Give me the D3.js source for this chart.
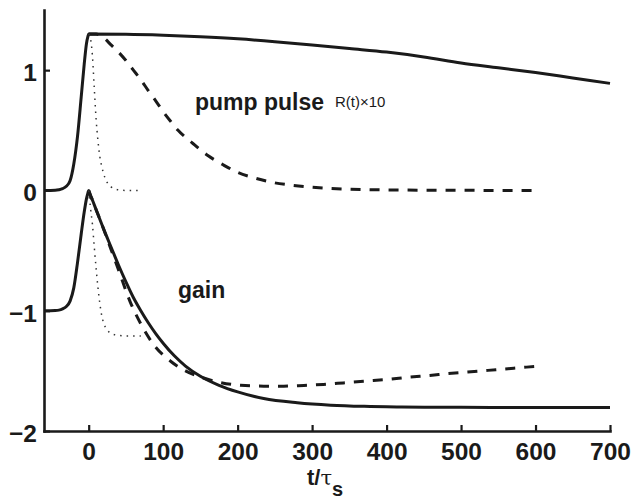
<!DOCTYPE html>
<html><head><meta charset="utf-8">
<script src="https://cdn.jsdelivr.net/npm/d3@7"></script>
<style>body{margin:0;background:#fff}svg{display:block}</style>
</head><body><svg id="c" width="633" height="499"></svg>
<script>
// ---- data ----
const xTicks = [0,100,200,300,400,500,600,700];
const yTicks = [-2,-1,0,1];
const yTickLabels = ["\u22122","\u22121","0","1"];

const pumpSolidT = [-60,-45,-40,-35,-30,-25,-20,-15,-10,-6,-3,-1,0,50,100,150,200,250,300,350,400,450,500,550,600,650,700];
const pumpSolidV = [0,0.002,0.006,0.015,0.035,0.08,0.22,0.45,0.78,1.05,1.22,1.28,1.30,1.298,1.29,1.277,1.26,1.237,1.21,1.18,1.15,1.11,1.06,1.02,0.98,0.935,0.89];

const pumpDashT = [0,10,20,30,40,50,60,70,80,90,100,110,120,140,160,180,200,225,250,275,300,350,400,450,500,550,600];
const pumpDashV = [1.30,1.30,1.27,1.21,1.15,1.08,1.0,0.92,0.83,0.745,0.655,0.575,0.50,0.39,0.29,0.215,0.15,0.10,0.063,0.042,0.027,0.01,0.004,0.002,0.001,0,0];

const pumpDotT = [0,2.5,5,7.5,10,12.5,15,17.5,20,25,30,40,50,70];
const pumpDotV = [1.3,1.26,1.12,0.85,0.59,0.41,0.28,0.20,0.14,0.065,0.03,0.005,0,0];

const gainSolidT = [-60,-45,-40,-35,-30,-25,-20,-15,-10,-6,-3,-1,0,2,5,10,20,30,40,50,60,70,80,90,100,115,130,150,175,200,235,280,325,370,420,500,600,700];
const gainSolidV = [-1,-0.998,-0.995,-0.985,-0.965,-0.92,-0.81,-0.6,-0.36,-0.18,-0.07,-0.02,0,-0.035,-0.08,-0.16,-0.32,-0.47,-0.62,-0.76,-0.89,-1.0,-1.10,-1.19,-1.27,-1.375,-1.46,-1.545,-1.62,-1.675,-1.73,-1.765,-1.785,-1.795,-1.80,-1.803,-1.805,-1.805];

const gainDashT = [0,2,5,10,20,30,40,56,70,87,110,130,152,177,204,235,262,289,315,342,369,400,431,458,483,509,536,563,588,608];
const gainDashV = [0,-0.035,-0.08,-0.16,-0.32,-0.49,-0.66,-0.93,-1.11,-1.28,-1.42,-1.50,-1.555,-1.597,-1.62,-1.627,-1.627,-1.621,-1.613,-1.60,-1.586,-1.572,-1.552,-1.538,-1.523,-1.51,-1.496,-1.482,-1.469,-1.46];

const gainDotT = [0,2.5,5,7.5,10,12.5,15,17.5,20,25,30,40,50,70];
const gainDotV = [0,-0.15,-0.28,-0.47,-0.65,-0.81,-0.94,-1.04,-1.10,-1.16,-1.19,-1.205,-1.21,-1.21];

// ---- chart ----
const svg = d3.select("#c");
const ink = "#1a1a1a";
const font = "'Liberation Sans', Arial, Helvetica, sans-serif";
const x = d3.scaleLinear().domain([-60,700]).range([44,610]);
const y = d3.scaleLinear().domain([-2,1.5]).range([431,10]);

const line = d3.line().x(d=>x(d[0])).y(d=>y(d[1])).curve(d3.curveMonotoneX);
const zip = (a,b)=>a.map((t,i)=>[t,b[i]]);

const series = [
  {t:pumpSolidT, v:pumpSolidV, w:3, dash:null, c:ink},
  {t:pumpDashT, v:pumpDashV, w:3, dash:"10,9", c:ink},
  {t:pumpDotT, v:pumpDotV, w:1.5, dash:"1.5,5", c:"#333"},
  {t:gainSolidT, v:gainSolidV, w:3, dash:null, c:ink},
  {t:gainDashT, v:gainDashV, w:3, dash:"10,9", c:ink},
  {t:gainDotT, v:gainDotV, w:1.5, dash:"1.5,5", c:"#333"}
];
svg.append("g").selectAll("path").data(series).join("path")
  .attr("d", s=>line(zip(s.t,s.v)))
  .attr("fill","none").attr("stroke",s=>s.c).attr("stroke-width",s=>s.w)
  .attr("stroke-dasharray",s=>s.dash).attr("stroke-linejoin","round");

// axes
const yAxis = d3.axisLeft(y).tickValues(yTicks).tickFormat((d,i)=>yTickLabels[i])
  .tickSizeInner(-6).tickSizeOuter(0).tickPadding(7);
const xAxis = d3.axisBottom(x).tickValues(xTicks).tickFormat(d3.format("d"))
  .tickSizeInner(-6).tickSizeOuter(0).tickPadding(12);

const gy = svg.append("g").attr("transform","translate(44,0)").call(yAxis);
const gx = svg.append("g").attr("transform","translate(0,431)").call(xAxis);
[gx,gy].forEach(g=>{
  g.select(".domain").attr("stroke",ink).attr("stroke-width",2.6).attr("stroke-linecap","square");
  g.selectAll(".tick line").attr("stroke",ink).attr("stroke-width",2.2);
  g.selectAll(".tick text").attr("fill",ink).style("font-family",font)
    .style("font-weight","bold").style("font-size","24.5px");
});
gy.selectAll(".tick text").attr("dy","0.42em");

// axis title t/τs
const title = svg.append("text").attr("x",307).attr("y",485).attr("fill",ink)
  .style("font-family",font).style("font-size","22px");
title.append("tspan").text("t/").style("font-weight","bold");
title.append("tspan").text("\u03c4").style("font-family","'DejaVu Serif', serif").style("font-size","21px");
title.append("tspan").text("s").attr("dy",11).style("font-weight","bold").style("font-size","20px");

// annotations
svg.append("text").attr("x",195).attr("y",110).attr("fill",ink)
  .style("font-family",font).style("font-weight","bold").style("font-size","23px").text("pump pulse");
svg.append("text").attr("x",335).attr("y",107).attr("fill",ink)
  .style("font-family",font).style("font-size","15px").text("R(t)\u00d710");
svg.append("text").attr("x",178).attr("y",298).attr("fill",ink)
  .style("font-family",font).style("font-weight","bold").style("font-size","23px").text("gain");
</script></body></html>
